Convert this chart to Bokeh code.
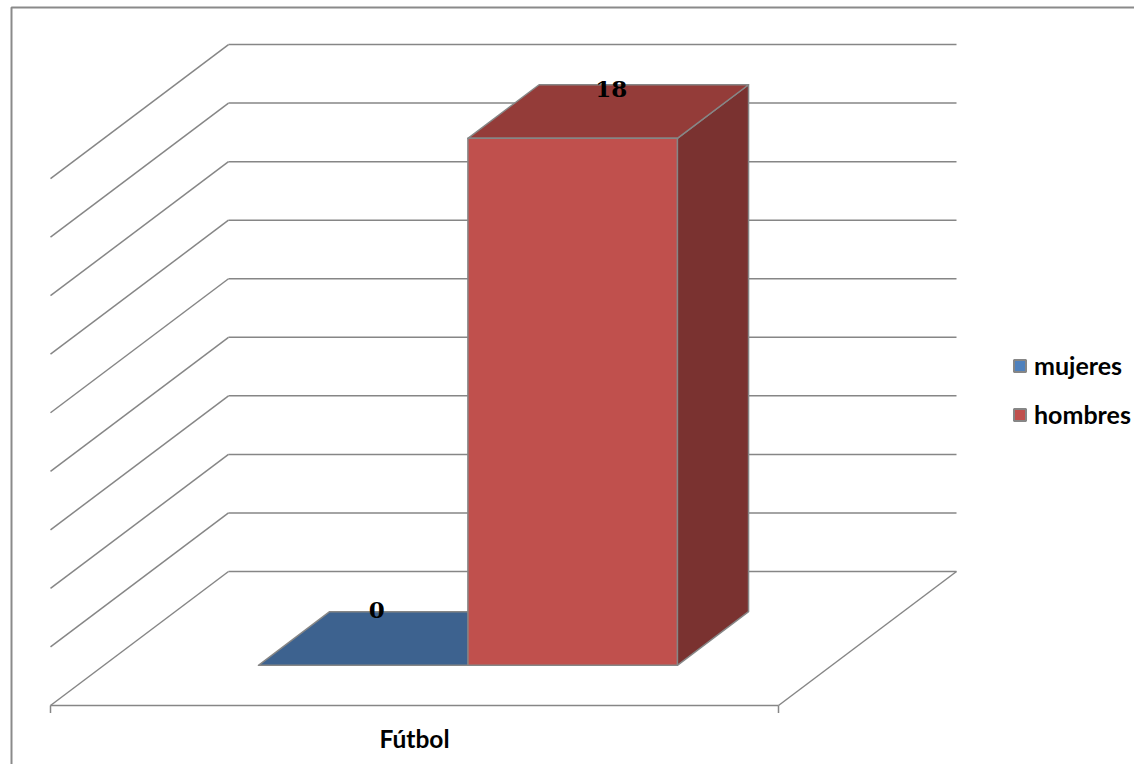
from bokeh.plotting import figure
from bokeh.models import Range1d, Legend, LegendItem, BoxAnnotation, ColumnDataSource
from bokeh.core.properties import value
from bokeh.embed import file_html
from bokeh.resources import INLINE

# --- data ---
category = "Fútbol"
series = ["mujeres", "hombres"]
values = [0, 18]
grid_values = [0, 2, 4, 6, 8, 10, 12, 14, 16, 18]

# --- colours ---
front_col = ["#4F81BD", "#C0504D"]
top_col = ["#3D628F", "#943C39"]
side_col = ["#314F73", "#7A3230"]
edge = "#868686"

# --- scales: x = position across the category, y = series value ---
W, H = 1134, 764
X0_PX, FLOOR_PX = 50, 705
PX_X = 728.0            # pixels per category width
PX_V = 58.55 / 2        # pixels per value unit
DX = 178 / PX_X         # depth shift of the whole floor, x units
DV = 134 / PX_V         # depth shift of the whole floor, value units
BAR_W = 0.2877
D_FRONT, D_BACK = 0.3, 0.7


def pr(x, v, d):
    return x + d * DX, v + d * DV


p = figure(width=W, height=H, output_backend="svg", toolbar_location=None,
           x_range=Range1d(-X0_PX / PX_X, (W - X0_PX) / PX_X),
           y_range=Range1d((FLOOR_PX - H) / PX_V, FLOOR_PX / PX_V),
           min_border=0, outline_line_color=None)
p.axis.visible = False
p.grid.visible = False
p.background_fill_color = "white"
p.border_fill_color = "white"

# chart-area border (screen y counts from the bottom here)
p.add_layout(BoxAnnotation(left=11, right=W + 20, top=H - 7, bottom=-20,
                           left_units="screen", right_units="screen",
                           top_units="screen", bottom_units="screen",
                           fill_alpha=0, line_color="#8A8A8A", line_alpha=1, line_width=2))


def seg(a, b):
    p.line([a[0], b[0]], [a[1], b[1]], line_color=edge, line_width=1.5)


# walls
for g in grid_values:
    seg(pr(0, g, 0), pr(0, g, 1))
    seg(pr(0, g, 1), pr(1, g, 1))
# floor
seg(pr(0, 0, 0), pr(1, 0, 0))
seg(pr(1, 0, 0), pr(1, 0, 1))
# axis ticks
for xt in (0, 1):
    p.segment([xt], [0], [xt], [-7.5 / PX_V], line_color=edge, line_width=1.5)


def poly(points, colour):
    xs, ys = zip(*points)
    p.patch(list(xs), list(ys), fill_color=colour, line_color=edge,
            line_width=1.5, line_join="round")


# bars
for i, v in enumerate(values):
    x0 = 0.5 + (i - 1) * BAR_W
    x1 = x0 + BAR_W
    if v > 0:
        poly([pr(x1, 0, D_FRONT), pr(x1, 0, D_BACK), pr(x1, v, D_BACK), pr(x1, v, D_FRONT)], side_col[i])
    poly([pr(x0, v, D_FRONT), pr(x1, v, D_FRONT), pr(x1, v, D_BACK), pr(x0, v, D_BACK)], top_col[i])
    if v > 0:
        poly([pr(x0, 0, D_FRONT), pr(x1, 0, D_FRONT), pr(x1, v, D_FRONT), pr(x0, v, D_FRONT)], front_col[i])

# value labels
label_nudge = [(-22, -29), (3, -23)]
for i, v in enumerate(values):
    x0 = 0.5 + (i - 1) * BAR_W
    lx, ly = pr(x0 + BAR_W / 2, v, 0.5)
    p.text([lx], [ly], text=[str(v)], x_offset=label_nudge[i][0], y_offset=label_nudge[i][1],
           text_font=value("DejaVu Serif"), text_font_style="bold", text_font_size="23px",
           text_color="black", text_align="center", text_baseline="middle")

# category label
p.text([0.5], [-33 / PX_V], text=[category], text_font=value("Lato"), text_font_style="bold",
       text_font_size="24.5px", text_color="black", text_align="center", text_baseline="middle")

# legend: swatches come from out-of-view quads
items = []
for i, s in enumerate(series):
    src = ColumnDataSource(dict(l=[-50], r=[-49], b=[-500], t=[-499]))
    r = p.quad(left="l", right="r", bottom="b", top="t", source=src, fill_color=front_col[i],
               line_color=edge, line_width=2)
    items.append(LegendItem(label=s, renderers=[r]))
leg = Legend(items=items, location=(1012, 335), orientation="vertical",
             background_fill_alpha=0, border_line_alpha=0, padding=0, margin=0,
             spacing=19, glyph_width=15, glyph_height=15, label_standoff=7,
             label_height=25, label_text_font="Lato", label_text_font_style="bold",
             label_text_font_size="25px", label_text_color="black")
p.add_layout(leg)

open("out.html", "w").write(file_html(p, INLINE))
